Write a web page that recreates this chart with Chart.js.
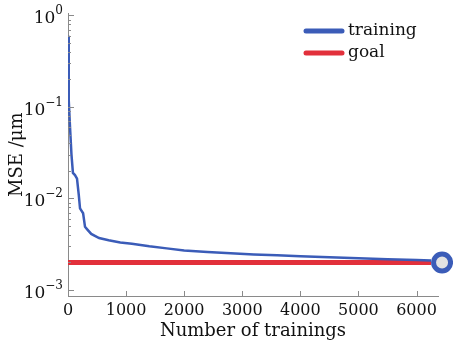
<!DOCTYPE html>
<html>
<head>
<meta charset="utf-8">
<script src="https://cdn.jsdelivr.net/npm/chart.js@4"></script>
<style>
  body { margin: 0; background: #fff; }
  #wrap { width: 453px; height: 345px; }
</style>
</head>
<body>
<div id="wrap"><canvas id="mseChart" width="453" height="345"></canvas></div>
<script>
// Data
const iterations = [0, 8, 17, 35, 60, 85, 120, 155, 185, 207, 260, 293, 330, 400, 535, 700, 900, 1100, 1400, 1700, 2000, 2400, 2800, 3200, 3600, 4000, 4500, 5000, 5500, 6000, 6250];
const mseValues = [0.6, 0.3, 0.12, 0.06, 0.03, 0.019, 0.018, 0.0165, 0.011, 0.0078, 0.0069, 0.0049, 0.0046, 0.0041, 0.0037, 0.0035, 0.0033, 0.0032, 0.003, 0.00285, 0.0027, 0.0026, 0.00252, 0.00245, 0.00239, 0.00234, 0.00228, 0.00222, 0.00217, 0.00213, 0.0021];
const goalValue = 0.002;
const goalRange = [0, 6250];
const stopPoint = [6440, 0.002];
const xTickValues = [0, 1000, 2000, 3000, 4000, 5000, 6000];
const yTickValues = [0.001, 0.01, 0.1, 1];
const yTickExponents = ["\u22123", "\u22122", "\u22121", "0"];
const seriesNames = ["training", "goal"];

const BLUE = "#3b5cb8";
const RED = "#e2303b";
const AXIS = "#8a8a8a";
const FONT = "'DejaVu Serif', serif";

const trainingData = iterations.map((it, i) => ({ x: it, y: mseValues[i] }));
const goalData = goalRange.map((it) => ({ x: it, y: goalValue }));

// inward tick marks, power-of-ten labels, legend inside the plot
const decorPlugin = {
  id: "decor",
  afterDraw(chart) {
    const ctx = chart.ctx;
    const area = chart.chartArea;
    const xs = chart.scales.x;
    const ys = chart.scales.y;
    ctx.save();
    ctx.strokeStyle = AXIS;
    ctx.lineWidth = 1;
    ctx.beginPath();
    xTickValues.forEach((v) => {
      const px = Math.round(xs.getPixelForValue(v)) + 0.5;
      ctx.moveTo(px, area.bottom);
      ctx.lineTo(px, area.bottom - 5);
    });
    for (let k = -3; k <= 0; k++) {
      for (let m = 1; m <= 9; m++) {
        const v = m * Math.pow(10, k);
        if (v < ys.min || v > ys.max) continue;
        const py = Math.round(ys.getPixelForValue(v)) + 0.5;
        ctx.moveTo(area.left, py);
        ctx.lineTo(area.left + (m === 1 ? 6 : 3), py);
      }
    }
    ctx.stroke();

    // y tick labels: 10 with raised exponent
    ctx.fillStyle = "#111";
    ctx.textBaseline = "alphabetic";
    ctx.textAlign = "left";
    yTickValues.forEach((v, i) => {
      const py = ys.getPixelForValue(v);
      const right = area.left - 5;
      ctx.font = "12px " + FONT;
      const ew = ctx.measureText(yTickExponents[i]).width;
      ctx.font = "17px " + FONT;
      const bw = ctx.measureText("10").width;
      ctx.fillText("10", right - ew - bw, py + 8);
      ctx.font = "12px " + FONT;
      ctx.fillText(yTickExponents[i], right - ew, py - 1);
    });

    // legend
    const colors = [BLUE, RED];
    ctx.lineCap = "round";
    ctx.lineWidth = 5;
    ctx.font = "17px " + FONT;
    ctx.textBaseline = "middle";
    seriesNames.forEach((name, i) => {
      const y = 31 + i * 22;
      ctx.strokeStyle = colors[i];
      ctx.beginPath();
      ctx.moveTo(306, y);
      ctx.lineTo(342, y);
      ctx.stroke();
      ctx.fillText(name, 348, y);
    });
    ctx.restore();
  }
};

new Chart(document.getElementById("mseChart"), {
  type: "line",
  data: {
    datasets: [
      {
        label: seriesNames[0],
        data: trainingData,
        borderColor: BLUE,
        borderWidth: 2.5,
        pointRadius: 0,
        tension: 0,
        order: 1
      },
      {
        label: seriesNames[1],
        data: goalData,
        borderColor: RED,
        borderWidth: 5,
        pointRadius: 0,
        order: 2
      },
      {
        label: "stop",
        data: [{ x: stopPoint[0], y: stopPoint[1] }],
        showLine: false,
        pointRadius: 8.5,
        pointBorderWidth: 5,
        pointBorderColor: BLUE,
        pointBackgroundColor: "#e2e2e2",
        clip: false,
        order: 0
      }
    ]
  },
  options: {
    responsive: false,
    animation: false,
    layout: { padding: { top: 13, right: 15, left: 0, bottom: 0 } },
    plugins: {
      legend: { display: false },
      tooltip: { enabled: false }
    },
    scales: {
      x: {
        type: "linear",
        min: 0,
        max: 6370,
        afterBuildTicks: (s) => { s.ticks = xTickValues.map((v) => ({ value: v })); },
        afterFit: (s) => { s.height = 49; },
        grid: { display: false, drawTicks: false },
        border: { display: true, color: AXIS, width: 1 },
        ticks: { color: "#111", font: { family: FONT, size: 16 }, padding: 5, maxRotation: 0, callback: (v) => String(v) },
        title: { display: true, text: "Number of trainings", color: "#111", font: { family: FONT, size: 18 }, padding: { top: 0, bottom: 3 } }
      },
      y: {
        type: "logarithmic",
        min: 0.00086,
        max: 1.05,
        afterBuildTicks: (s) => { s.ticks = yTickValues.map((v) => ({ value: v })); },
        afterFit: (s) => { s.width = 68; },
        grid: { display: false, drawTicks: false },
        border: { display: true, color: AXIS, width: 1 },
        ticks: { display: false },
        title: { display: true, text: "MSE /μm", color: "#111", font: { family: FONT, size: 18 }, padding: { top: 7, bottom: 0 } }
      }
    }
  },
  plugins: [decorPlugin]
});
</script>
</body>
</html>
